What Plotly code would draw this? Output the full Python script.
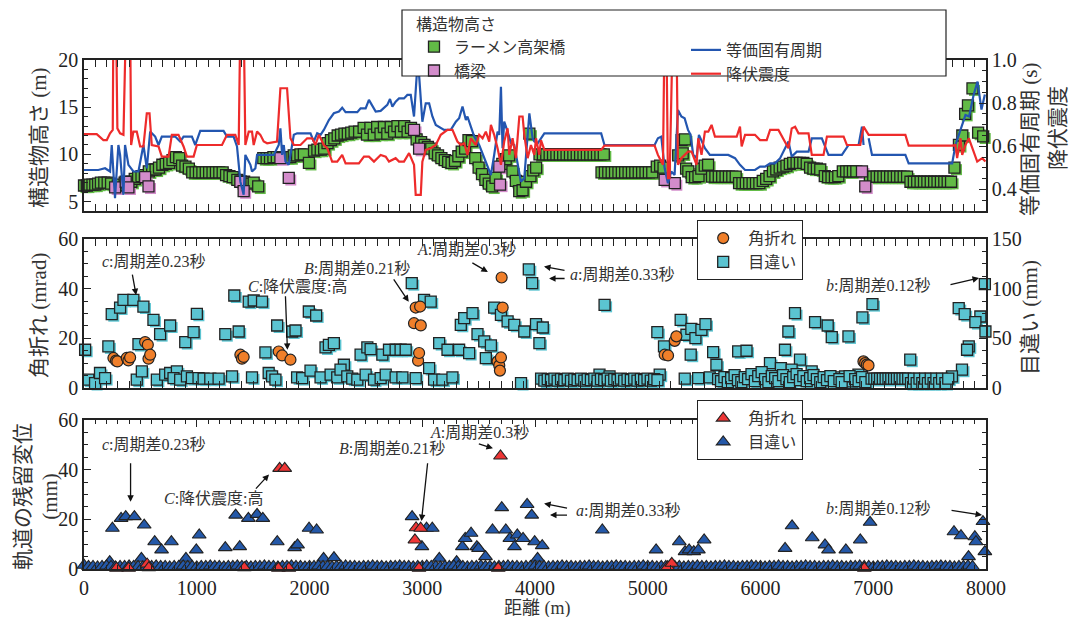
import plotly.graph_objects as go

W, H = 1077, 617
JP = "Liberation Serif, Noto Sans CJK JP"
NUM = "Liberation Serif"
TXT = "#333333"

# ---------------- 上段: 構造物高さ / 等価固有周期 / 降伏震度 ----------------
# (距離 m, 構造物高さ m) ラーメン高架橋
RAMEN = [
    (0, 6.7), (25, 6.7), (50, 6.8), (75, 6.8), (100, 6.8), (125, 6.9), (150, 7.0), (180, 7.0), (210, 7.0), (240, 6.9),
    (300, 6.7), (335, 6.8), (360, 7.0), (420, 7.1), (450, 7.4), (480, 7.6), (510, 7.7), (540, 7.8), (575, 8.2), (605, 8.4),
    (635, 8.4), (665, 8.6), (695, 8.9), (725, 9.0), (755, 9.1), (785, 9.4), (815, 9.7), (845, 9.6), (870, 8.8), (900, 8.7),
    (930, 8.5), (960, 8.1), (990, 8.1), (1020, 8.1), (1050, 8.1), (1080, 8.1), (1110, 8.1), (1140, 8.1), (1170, 8.1), (1200, 8.1),
    (1230, 8.1), (1260, 7.8), (1290, 7.7), (1320, 7.6), (1360, 7.3), (1390, 7.1), (1420, 7.1), (1470, 6.9), (1505, 7.0), (1545, 6.6),
    (1590, 9.6), (1620, 9.6), (1650, 9.6), (1680, 9.7), (1710, 9.7), (1770, 9.7), (1800, 9.7), (1830, 9.7), (1860, 9.9), (1890, 9.9),
    (1920, 10.0), (1950, 10.0), (1995, 9.1), (2040, 10.4), (2070, 10.5), (2100, 10.5), (2130, 10.6), (2160, 11.2), (2190, 11.5), (2220, 11.7),
    (2250, 12.0), (2280, 12.1), (2310, 12.2), (2340, 12.2), (2370, 12.3), (2400, 12.4), (2440, 12.4), (2480, 12.8), (2510, 12.1), (2540, 12.8),
    (2570, 12.1), (2600, 12.9), (2630, 12.2), (2660, 12.9), (2690, 12.2), (2720, 12.9), (2750, 12.4), (2780, 13.0), (2810, 12.4), (2840, 13.0),
    (2870, 12.4), (2900, 12.8), (2950, 11.6), (2990, 11.3), (3020, 11.0), (3050, 10.8), (3080, 10.6), (3110, 10.1), (3140, 9.9), (3170, 9.6),
    (3200, 9.4), (3230, 9.2), (3260, 9.1), (3290, 9.3), (3320, 9.8), (3350, 10.3), (3380, 10.6), (3410, 11.5), (3440, 11.4), (3470, 9.6),
    (3500, 8.6), (3530, 7.9), (3560, 7.3), (3590, 6.9), (3620, 6.6), (3650, 7.5), (3710, 9.0), (3740, 9.5), (3770, 9.9), (3800, 8.2),
    (3830, 7.2), (3860, 6.1), (3890, 6.2), (3920, 7.1), (3950, 12.2), (3960, 7.7), (3985, 8.3), (4010, 8.6),
    (4040, 10.0), (4070, 10.0), (4100, 10.0), (4130, 10.0), (4160, 10.0), (4190, 10.0), (4220, 10.0), (4250, 10.0), (4280, 10.0), (4310, 10.0),
    (4340, 10.0), (4370, 10.0), (4400, 10.0), (4430, 10.0), (4460, 10.0), (4490, 10.0), (4520, 10.0), (4550, 10.0), (4580, 10.0), (4610, 10.0),
    (4590, 8.1), (4620, 8.1), (4650, 8.1), (4680, 8.1), (4710, 8.1), (4740, 8.1), (4770, 8.1), (4800, 8.1), (4830, 8.1), (4860, 8.1),
    (4890, 8.1), (4920, 8.1), (4950, 8.1), (4980, 8.1), (5010, 8.1), (5040, 8.1),
    (5080, 8.7), (5110, 8.8), (5140, 8.6), (5270, 9.9), (5300, 11.5), (5330, 11.6), (5310, 10.1), (5340, 8.5), (5360, 8.2), (5390, 7.6),
    (5420, 7.6), (5450, 7.7), (5475, 8.5), (5505, 8.8), (5535, 8.9),
    (5570, 7.65), (5600, 7.65), (5630, 7.65), (5660, 7.65), (5690, 7.65), (5720, 7.65), (5750, 7.65), (5780, 7.65),
    (5810, 6.95), (5840, 6.95), (5870, 6.95), (5900, 6.95), (5930, 6.95), (5960, 6.95), (5990, 6.95),
    (6020, 7.2), (6050, 7.4), (6080, 7.7), (6110, 8.2), (6140, 8.4), (6170, 8.6), (6200, 8.7), (6230, 8.8), (6260, 9.0), (6290, 9.1),
    (6320, 9.1), (6350, 9.1), (6380, 9.1), (6410, 9.0), (6440, 8.6), (6470, 8.5), (6500, 8.5), (6530, 8.4), (6570, 7.7), (6600, 7.6),
    (6630, 7.6), (6660, 7.6), (6690, 7.7), (6730, 8.2), (6760, 8.2), (6790, 8.2), (6820, 8.2), (6850, 8.2),
    (6970, 7.65), (7000, 7.65), (7030, 7.65), (7060, 7.65), (7090, 7.65), (7120, 7.65), (7150, 7.65), (7180, 7.65), (7210, 7.65), (7240, 7.65),
    (7270, 7.65), (7300, 7.65),
    (7330, 7.1), (7360, 7.1), (7390, 7.1), (7420, 7.1), (7450, 7.1), (7480, 7.1), (7510, 7.1), (7540, 7.1), (7570, 7.1), (7600, 7.1),
    (7630, 7.1), (7660, 7.1), (7690, 7.1),
    (7720, 8.6), (7760, 11.0), (7790, 12.0), (7815, 14.3), (7840, 15.2), (7880, 17.0), (7930, 12.3), (7975, 11.9),
]

# (距離 m, 構造物高さ m) 橋梁
BRIDGE = [
    (276, 6.5), (370, 7.1), (394, 6.5), (542, 7.6), (572, 6.6), (1387, 7.1), (1416, 6.1), (1742, 9.6), (1816, 7.5),
    (2927, 12.6), (2972, 10.6), (3683, 8.7), (3690, 6.8), (5150, 7.3), (5240, 6.95), (6900, 8.2), (6929, 6.6),
]

# (距離 m, 等価固有周期 s)
PERIOD = [
    (0, 0.490), (127, 0.490), (187, 0.498), (231, 0.483), (246, 0.606), (275, 0.359), (305, 0.606), (320, 0.560), (350, 0.375), (364, 0.606),
    (394, 0.514), (438, 0.483), (483, 0.483), (527, 0.606), (557, 0.498), (587, 0.668), (631, 0.645), (661, 0.606), (690, 0.645), (809, 0.645),
    (853, 0.622), (883, 0.645), (957, 0.645), (987, 0.606), (1031, 0.671), (1238, 0.671), (1268, 0.645), (1327, 0.645), (1357, 0.599), (1387, 0.436),
    (1416, 0.375), (1431, 0.560), (1476, 0.514), (1490, 0.483), (1520, 0.498), (1535, 0.560), (1683, 0.560), (1727, 0.606), (1742, 0.683), (1757, 0.560),
    (1772, 0.606), (1787, 0.529), (1816, 0.514), (1831, 0.560), (1861, 0.653), (1890, 0.660), (2009, 0.660), (2038, 0.622), (2068, 0.660), (2098, 0.653),
    (2127, 0.676), (2172, 0.722), (2216, 0.753), (2261, 0.761), (2290, 0.779), (2320, 0.758), (2424, 0.758), (2453, 0.776), (2498, 0.776), (2527, 0.815),
    (2587, 0.761), (2631, 0.764), (2690, 0.792), (2714, 0.819), (2735, 0.784), (2764, 0.807), (2794, 0.822), (2838, 0.822), (2868, 0.838), (2898, 0.838),
    (2927, 0.738), (2951, 0.930), (2972, 0.930), (3001, 0.714), (3031, 0.799), (3061, 0.799), (3090, 0.738), (3120, 0.699), (3164, 0.683), (3194, 0.676),
    (3253, 0.676), (3298, 0.714), (3327, 0.730), (3357, 0.784), (3387, 0.722), (3401, 0.738), (3431, 0.691), (3461, 0.645), (3505, 0.606), (3550, 0.545),
    (3609, 0.467), (3638, 0.560), (3668, 0.668), (3683, 0.653), (3698, 0.876), (3712, 0.591), (3727, 0.714), (3757, 0.668), (3787, 0.614), (3816, 0.606),
    (3846, 0.514), (3875, 0.436), (3905, 0.452), (3935, 0.637), (3950, 0.753), (3979, 0.637), (3994, 0.622), (4024, 0.614), (4053, 0.637), (4083, 0.660),
    (4587, 0.660), (4616, 0.606), (5061, 0.606), (5090, 0.637), (5120, 0.645), (5150, 0.498), (5179, 0.429), (5209, 0.483), (5238, 0.467), (5268, 0.768),
    (5298, 0.738), (5327, 0.730), (5357, 0.676), (5380, 0.653), (5403, 0.560), (5433, 0.545), (5454, 0.653), (5477, 0.629), (5507, 0.591), (5551, 0.560),
    (5714, 0.560), (5774, 0.545), (5818, 0.514), (5863, 0.490), (5951, 0.490), (5996, 0.506), (6040, 0.506), (6085, 0.521), (6129, 0.521), (6174, 0.545),
    (6218, 0.591), (6248, 0.622), (6277, 0.552), (6322, 0.575), (6426, 0.575), (6455, 0.637), (6544, 0.637), (6603, 0.560), (6722, 0.560), (6781, 0.606),
    (6870, 0.606), (6900, 0.691), (6914, 0.606), (None, None), (6959, 0.637), (6989, 0.560), (7285, 0.560), (7314, 0.521), (7700, 0.521), (7729, 0.606),
    (7759, 0.653), (7789, 0.699), (7818, 0.745), (7850, 0.738), (7890, 0.838), (7925, 0.900), (7960, 0.770), (7990, 0.840),
]

# (距離 m, 降伏震度)  ※スケール外の値は上端で切れる
YIELD = [
    (0, 0.656), (113, 0.656), (172, 0.629), (202, 0.629), (231, 0.660), (255, 0.676), (261, 1.2), (284, 1.2), (296, 0.683), (320, 0.660),
    (350, 0.653), (373, 1.2), (409, 1.2), (418, 0.606), (438, 0.668), (468, 0.668), (498, 0.599), (527, 0.599), (557, 0.753), (581, 0.753),
    (601, 0.606), (661, 0.599), (690, 0.552), (750, 0.552), (779, 0.653), (838, 0.653), (883, 0.599), (913, 0.552), (972, 0.552), (1001, 0.606),
    (1224, 0.606), (1268, 0.653), (1342, 0.653), (1372, 0.606), (1387, 1.2), (1416, 1.2), (1431, 0.606), (1461, 0.668), (1490, 0.668), (1505, 0.606),
    (1535, 0.668), (1564, 0.653), (1594, 0.622), (1624, 0.614), (1712, 0.622), (1742, 0.869), (1801, 0.869), (1831, 0.637), (1861, 0.606), (1920, 0.606),
    (1979, 0.637), (2024, 0.637), (2053, 0.606), (2083, 0.653), (2127, 0.606), (2157, 0.591), (2201, 0.529), (2246, 0.529), (2290, 0.560), (2320, 0.521),
    (2438, 0.521), (2483, 0.552), (2527, 0.552), (2572, 0.529), (2631, 0.560), (2676, 0.552), (2705, 0.529), (2764, 0.545), (2794, 0.529), (2838, 0.529),
    (2883, 0.568), (2927, 0.514), (2942, 0.375), (2987, 0.375), (3001, 0.529), (3031, 0.583), (3075, 0.591), (3120, 0.606), (3164, 0.653), (3224, 0.676),
    (3268, 0.676), (3312, 0.622), (3342, 0.606), (3372, 0.614), (3401, 0.560), (3431, 0.637), (3475, 0.606), (3505, 0.653), (3535, 0.637), (3564, 0.668),
    (3594, 0.622), (3609, 0.699), (3638, 0.653), (3668, 0.591), (3698, 0.514), (3727, 0.622), (3757, 0.683), (3772, 0.560), (3801, 0.637), (3831, 0.545),
    (3861, 0.738), (3890, 0.738), (3905, 0.653), (3935, 0.545), (3964, 0.606), (3994, 0.560), (4009, 0.637), (4038, 0.560), (4053, 0.629), (4083, 0.583),
    (4587, 0.583), (4616, 0.603), (5061, 0.603), (5090, 0.560), (5135, 0.514), (5150, 1.2), (5164, 1.2), (5179, 0.452), (5194, 0.452), (5224, 1.2),
    (5253, 1.2), (5268, 0.514), (5298, 0.545), (5327, 0.560), (5357, 0.575), (5389, 0.575), (5433, 0.514), (5448, 0.637), (5477, 0.560), (5507, 0.668),
    (5537, 0.668), (5566, 0.699), (5596, 0.645), (5789, 0.645), (5818, 0.691), (5833, 0.599), (5863, 0.653), (5951, 0.653), (5996, 0.629), (6055, 0.629),
    (6085, 0.676), (6159, 0.676), (6218, 0.622), (6248, 0.591), (6277, 0.683), (6307, 0.691), (6337, 0.660), (6426, 0.660), (6455, 0.560), (6559, 0.560),
    (6589, 0.645), (6737, 0.645), (6766, 0.606), (6885, 0.606), (6914, 0.691), (6959, 0.653), (7285, 0.653), (7314, 0.603), (7700, 0.603), (7729, 0.606),
    (7744, 0.545), (7774, 0.637), (7789, 0.560), (7818, 0.606), (7848, 0.637), (7877, 0.591), (7922, 0.529), (7966, 0.545), (7995, 0.529),
]

# ---------------- 中段: 角折れ (mrad) / 目違い (mm) ----------------
KAKU = [
    (261, 12.1), (284, 11.0), (296, 10.7), (379, 12.1), (394, 11.1), (409, 12.3), (542, 18.5), (566, 17.4), (572, 11.8), (587, 13.4),
    (1387, 13.4), (1401, 11.8), (1416, 12.5), (1727, 14.7), (1757, 13.1), (1831, 11.4), (2927, 26.1), (2942, 32.4), (2963, 11.0), (2972, 14.1),
    (2981, 32.8), (2987, 25.2), (3668, 10.7), (3683, 9.1), (3689, 7.0), (3698, 12.3), (3704, 44.5), (3713, 32.4), (5150, 13.4), (5180, 13.1),
    (5239, 19.0), (5254, 20.8), (6913, 10.7), (6928, 10.0), (6943, 9.4), (6958, 9.1),
]

MECHIGAI = [
    (10, 38.5), (38, 8.4), (98, 5.0), (142, 15.1), (187, 10.0), (216, 41.9), (246, 74.3), (320, 81.0), (350, 88.7), (438, 88.7),
    (527, 82.0), (468, 8.4), (513, 16.7), (483, 44.2), (616, 68.6), (675, 54.2), (764, 62.9), (646, 8.4), (720, 13.4), (764, 15.1),
    (824, 16.7), (794, 10.0), (853, 8.4), (898, 46.2), (972, 56.2), (1001, 74.7), (913, 11.7), (957, 10.0), (1016, 10.0), (1061, 9.4),
    (1120, 9.4), (1194, 9.4), (1253, 54.2), (1313, 11.7), (1333, 93.1), (1372, 56.9), (1461, 87.0), (1505, 88.1), (1579, 87.0), (1490, 10.7),
    (1609, 35.8), (1638, 15.1), (1668, 11.7), (1698, 8.4), (1713, 62.9), (1846, 56.9), (1876, 57.9), (1890, 10.7), (1935, 10.0), (1994, 77.0),
    (2009, 17.4), (2059, 73.0), (2098, 10.7), (2142, 40.8), (2172, 43.5), (2216, 45.2), (2187, 13.4), (2246, 10.7), (2305, 23.4), (2275, 18.4),
    (2335, 11.7), (2379, 9.4), (2424, 8.4), (2453, 33.5), (2498, 13.4), (2513, 40.8), (2542, 39.2), (2572, 8.4), (2631, 10.0), (2646, 33.5),
    (2676, 13.4), (2705, 38.5), (2764, 38.5), (2808, 38.5), (2853, 38.5), (2764, 10.7), (2824, 10.7), (2907, 105.5), (2942, 10.0), (3016, 88.7),
    (3075, 87.0), (3061, 20.1), (3105, 8.4), (3150, 45.2), (3179, 8.4), (3224, 38.5), (3268, 10.7), (3342, 63.6), (3372, 70.3), (3446, 75.3),
    (3327, 38.5), (3416, 35.2), (3490, 54.2), (3550, 46.9), (3564, 30.1), (3609, 42.9), (3638, 81.0), (3698, 73.7), (3757, 67.0), (3816, 63.6),
    (3905, 56.9), (3945, 119.5), (3975, 105.5), (3876, 5.0), (4009, 64.3), (4039, 45.2), (4069, 60.9),
    (4617, 83.7), (5085, 56.2), (5144, 41.9), (5292, 68.6), (5343, 53.6), (5387, 59.6), (5423, 50.2), (5476, 58.6), (5512, 64.3), (5381, 33.5),
    (5580, 36.2), (5609, 23.4), (5802, 36.8), (5876, 37.5), (6084, 25.1), (6217, 38.5), (6306, 75.3), (6247, 56.9), (6350, 28.5), (6484, 66.3),
    (6596, 62.9), (6632, 51.2), (6780, 51.9), (6904, 71.0), (6993, 84.4), (7328, 28.5), (7758, 80.4), (7811, 74.3), (7950, 72.0), (7906, 66.3),
    (7847, 41.9), (7832, 38.5), (7787, 18.4), (7990, 104.5), (7995, 56.9),
    (4572, 13.4), (4661, 11.7), (5106, 13.4), (5328, 9.4), (5447, 10.0), (5550, 10.7), (6181, 20.1), (6276, 18.4), (6454, 16.7), (6543, 10.0),
    (6869, 13.4), (6810, 6.7), (6676, 10.7), (6750, 11.7), (7698, 11.7),
    (4054, 9.5), (4083, 7.5), (4113, 9.0), (4142, 8.0), (4172, 9.5), (4201, 7.5), (4231, 9.0), (4260, 8.0), (4290, 9.5), (4319, 7.5),
    (4349, 9.0), (4378, 8.0), (4408, 9.5), (4437, 7.5), (4467, 9.0), (4496, 8.0), (4526, 9.5), (4555, 7.5), (4585, 9.0), (4614, 8.0),
    (4644, 9.5), (4673, 7.5), (4703, 9.0), (4732, 8.0), (4762, 9.5), (4791, 7.5), (4821, 9.0), (4850, 8.0), (4880, 9.5), (4909, 7.5),
    (4939, 9.0), (4968, 8.0), (4998, 9.5), (5027, 7.5), (5057, 9.0), (5086, 8.0),
    (5624, 9), (5650, 7), (5680, 11), (5710, 6), (5740, 10), (5770, 13), (5800, 8), (5830, 6), (5860, 11), (5890, 9),
    (5920, 14), (5950, 7), (5980, 12), (6010, 16), (6040, 9), (6070, 6), (6100, 12), (6130, 10), (6160, 7), (6200, 13),
    (6230, 9), (6260, 6), (6290, 11), (6320, 14), (6350, 8), (6380, 12), (6410, 7), (6440, 10), (6470, 13), (6500, 9),
    (6530, 6), (6560, 11), (6590, 8), (6620, 12), (6650, 7), (6700, 9), (6720, 6), (6790, 12), (6840, 9), (6870, 7),
    (6900, 11), (6930, 6),
    (6985, 9.4), (7010, 9.4), (7035, 9.4), (7060, 9.4), (7085, 9.4), (7110, 9.4), (7135, 9.4), (7160, 9.4), (7185, 9.4), (7210, 9.4),
    (7235, 9.4), (7260, 9.4), (7285, 9.4), (7310, 9.4), (7335, 5.0), (7360, 9.4), (7385, 5.0), (7410, 9.4), (7435, 5.0), (7460, 9.4),
    (7485, 5.0), (7510, 9.4), (7535, 5.0), (7560, 9.4), (7585, 5.0), (7610, 9.4), (7640, 5.0), (7665, 9.4),
]

# ---------------- 下段: 軌道の残留変位 (mm) ----------------
DISP_KAKU = [
    (288, 0.3), (396, 0.3), (560, 2.0), (575, 0.5), (1422, 0.5), (1724, 0.3), (1735, 40.5), (1780, 40.5), (1817, 0.3),
    (2935, 11.7), (2945, 16.6), (2986, 16.4), (2971, 0.3), (3674, 0.3), (3694, 45.5), (5177, 0.9), (5213, 2.3), (6921, 0.3),
]

DISP_ME = [
    (252, 16.4), (329, 20.4), (370, 21.1), (447, 21.1), (534, 17.7), (509, 4.3), (627, 11.0), (688, 7.7), (775, 11.0), (904, 4.3),
    (996, 7.7), (1022, 13.7), (1253, 8.6), (1345, 21.7), (1381, 9.0), (1458, 20.4), (1535, 22.0), (1586, 20.4), (1714, 11.0), (1868, 8.6),
    (1894, 9.7), (1996, 16.4), (2063, 15.7), (2125, 4.3), (2217, 4.6), (2910, 21.1), (2997, 9.0), (3038, 16.4), (3089, 16.4), (3151, 4.3),
    (3305, 3.0), (3356, 9.0), (3381, 12.3), (3433, 14.4), (3484, 9.0), (3499, 8.3), (3561, 5.0), (3623, 15.7), (3705, 24.7), (3741, 15.7),
    (3777, 12.3), (3818, 9.0), (3843, 13.7), (3894, 12.3), (3930, 26.0), (3971, 21.7), (3997, 11.0), (4064, 9.4), (4023, 4.3), (4597, 15.7),
    (5074, 7.7), (5280, 11.0), (5331, 7.0), (5367, 7.7), (5408, 7.0), (5449, 7.7), (5500, 11.7), (6218, 8.3), (6280, 17.4), (6459, 12.6),
    (6572, 9.7), (6603, 7.7), (6757, 7.7), (6885, 11.7), (6972, 18.8), (7716, 15.0), (7778, 13.4), (7845, 5.0), (7901, 13.0), (7911, 11.0),
    (7973, 19.1), (7990, 7.0), (228, 3.0),
    (0, 1.5), (40, 1.0), (80, 1.0), (120, 0.8), (160, 1.0), (200, 1.2), (240, 1.0), (280, 0.8), (320, 1.0), (360, 1.0),
    (400, 1.2), (440, 1.0), (480, 1.0), (520, 0.8), (560, 1.0), (600, 1.0), (640, 1.2), (680, 1.0), (720, 1.0), (760, 0.8),
    (800, 1.0), (840, 1.0), (880, 1.2), (920, 1.0), (960, 1.0), (1000, 0.8), (1040, 1.0), (1080, 1.0), (1120, 1.2), (1160, 1.0),
    (1200, 1.0), (1240, 0.8), (1280, 1.0), (1320, 1.0), (1360, 1.2), (1400, 1.0), (1440, 1.0), (1480, 0.8), (1520, 1.0), (1560, 1.0),
    (1600, 1.2), (1640, 1.0), (1680, 1.0), (1720, 0.8), (1760, 1.0), (1800, 1.0), (1840, 1.2), (1880, 1.0), (1920, 1.0), (1960, 0.8),
    (2000, 1.0), (2040, 1.0), (2080, 1.2), (2120, 1.0), (2160, 1.0), (2200, 0.8), (2240, 1.0), (2280, 1.0), (2320, 1.2), (2360, 1.0),
    (2400, 1.0), (2440, 0.8), (2480, 1.0), (2520, 1.0), (2560, 1.2), (2600, 1.0), (2640, 1.0), (2680, 0.8), (2720, 1.0), (2760, 1.0),
    (2800, 1.2), (2840, 1.0), (2880, 1.0), (2920, 0.8), (2960, 1.0), (3000, 1.0), (3040, 1.2), (3080, 1.0), (3120, 1.0), (3160, 0.8),
    (3200, 1.0), (3240, 1.0), (3280, 1.2), (3320, 1.0), (3360, 1.0), (3400, 0.8), (3440, 1.0), (3480, 1.0), (3520, 1.2), (3560, 1.0),
    (3600, 1.0), (3640, 0.8), (3680, 1.0), (3720, 1.0), (3760, 1.2), (3800, 1.0), (3840, 1.0), (3880, 0.8), (3920, 1.0), (3960, 1.0),
    (4000, 1.2), (4040, 1.0), (4080, 1.0), (4120, 0.8), (4160, 1.0), (4200, 1.0), (4240, 1.2), (4280, 1.0), (4320, 1.0), (4360, 0.8),
    (4400, 1.0), (4440, 1.0), (4480, 1.2), (4520, 1.0), (4560, 1.0), (4600, 0.8), (4640, 1.0), (4680, 1.0), (4720, 1.2), (4760, 1.0),
    (4800, 1.0), (4840, 0.8), (4880, 1.0), (4920, 1.0), (4960, 1.2), (5000, 1.0), (5040, 1.0), (5080, 0.8), (5120, 1.0), (5160, 1.0),
    (5200, 1.2), (5240, 1.0), (5280, 1.0), (5320, 0.8), (5360, 1.0), (5400, 1.0), (5440, 1.2), (5480, 1.0), (5520, 1.0), (5560, 0.8),
    (5600, 1.0), (5640, 1.0), (5680, 1.2), (5720, 1.0), (5760, 1.0), (5800, 0.8), (5840, 1.0), (5880, 1.0), (5920, 1.2), (5960, 1.0),
    (6000, 1.0), (6040, 0.8), (6080, 1.0), (6120, 1.0), (6160, 1.2), (6200, 1.0), (6240, 1.0), (6280, 0.8), (6320, 1.0), (6360, 1.0),
    (6400, 1.2), (6440, 1.0), (6480, 1.0), (6520, 0.8), (6560, 1.0), (6600, 1.0), (6640, 1.2), (6680, 1.0), (6720, 1.0), (6760, 0.8),
    (6800, 1.0), (6840, 1.0), (6880, 1.2), (6920, 1.0), (6960, 1.0), (7000, 0.8), (7040, 1.0), (7080, 1.0), (7120, 1.2), (7160, 1.0),
    (7200, 1.0), (7240, 0.8), (7280, 1.0), (7320, 1.0), (7360, 1.2), (7400, 1.0), (7440, 1.0), (7480, 0.8), (7520, 1.0), (7560, 1.0),
    (7600, 1.2), (7640, 1.0), (7680, 1.0), (7720, 0.8), (7760, 1.0), (7800, 1.0), (7840, 1.2), (7880, 1.0),
]


def split(pts):
    return [p[0] for p in pts], [p[1] for p in pts]


GREEN = "#62BB46"
PINK = "#D38CCB"
BLUE_LINE = "#2356B0"
RED_LINE = "#EE2B2B"
CYAN = "#5BC4D1"
ORANGE = "#F07F2A"
BLUE_TRI = "#2458A8"
RED_TRI = "#EE3535"
EDGE = "#222222"

fig = go.Figure()

# 上段 ---------------------------------------------------------------
rx, rh = split(RAMEN)
bx, bh = split(BRIDGE)
for xs, ys, col in ((rx, rh, GREEN), (bx, bh, PINK)):
    fig.add_trace(go.Scatter(
        x=[v + 18 for v in xs], y=[v - 0.22 for v in ys], mode="markers",
        marker=dict(symbol="square", size=11, color=col, line=dict(width=0)),
        xaxis="x", yaxis="y", showlegend=False, hoverinfo="skip", cliponaxis=False))
fig.add_trace(go.Scatter(
    x=rx, y=rh, mode="markers", name="ラーメン高架橋", legend="legend",
    marker=dict(symbol="square", size=11, color=GREEN, line=dict(width=1.3, color=EDGE)),
    xaxis="x", yaxis="y", cliponaxis=False))
fig.add_trace(go.Scatter(
    x=bx, y=bh, mode="markers", name="橋梁", legend="legend",
    marker=dict(symbol="square", size=11, color=PINK, line=dict(width=1.3, color=EDGE)),
    xaxis="x", yaxis="y", cliponaxis=False))

px_, ps = split(PERIOD)
yx, yv = split(YIELD)
fig.add_trace(go.Scatter(
    x=px_, y=ps, mode="lines", name="等価固有周期", legend="legend4",
    line=dict(color=BLUE_LINE, width=2.2), xaxis="x", yaxis="y2", connectgaps=False))
fig.add_trace(go.Scatter(
    x=yx, y=yv, mode="lines", name="降伏震度", legend="legend4",
    line=dict(color=RED_LINE, width=2.2), xaxis="x", yaxis="y2"))

# 中段 ---------------------------------------------------------------
mx, mm = split(MECHIGAI)
kx, kv = split(KAKU)
fig.add_trace(go.Scatter(
    x=[v + 18 for v in mx], y=[v - 2.0 for v in mm], mode="markers",
    marker=dict(symbol="square", size=11, color=CYAN, line=dict(width=0)),
    xaxis="x2", yaxis="y4", showlegend=False, hoverinfo="skip", cliponaxis=False))
fig.add_trace(go.Scatter(
    x=mx, y=mm, mode="markers", name="目違い", legend="legend2", legendrank=2,
    marker=dict(symbol="square", size=11, color=CYAN, line=dict(width=1.3, color=EDGE)),
    xaxis="x2", yaxis="y4", cliponaxis=False))
fig.add_trace(go.Scatter(
    x=kx, y=kv, mode="markers", name="角折れ", legend="legend2", legendrank=1,
    marker=dict(symbol="circle", size=11, color=ORANGE, line=dict(width=1.2, color=EDGE)),
    xaxis="x2", yaxis="y3", cliponaxis=False))

# 下段 ---------------------------------------------------------------
dx, dv = split(DISP_ME)
ex, ev = split(DISP_KAKU)
fig.add_trace(go.Scatter(
    x=dx, y=dv, mode="markers", name="目違い", legend="legend3", legendrank=2,
    marker=dict(symbol="triangle-up", size=12, color=BLUE_TRI, line=dict(width=1.1, color=EDGE)),
    xaxis="x3", yaxis="y5", cliponaxis=False))
fig.add_trace(go.Scatter(
    x=ex, y=ev, mode="markers", name="角折れ", legend="legend3", legendrank=1,
    marker=dict(symbol="triangle-up", size=12, color=RED_TRI, line=dict(width=1.1, color=EDGE)),
    xaxis="x3", yaxis="y5", cliponaxis=False))

# 軸 -----------------------------------------------------------------
XDOM = [84 / W, 986 / W]
TOP = [1 - 211 / H, 1 - 60 / H]
MID = [1 - 388 / H, 1 - 239 / H]
BOT = [1 - 569 / H, 1 - 420 / H]
tickfont = dict(family=NUM, size=20, color="#222")


def xax(anchor, labels):
    return dict(domain=XDOM, range=[0, 8000], anchor=anchor, showticklabels=labels,
                tick0=0, dtick=1000, ticks="inside", ticklen=7, tickwidth=1, tickcolor=EDGE,
                minor=dict(ticks="inside", ticklen=4, tickwidth=1, tickcolor=EDGE, dtick=100),
                showline=True, linecolor=EDGE, linewidth=1.5, mirror="allticks",
                showgrid=False, zeroline=False, tickfont=tickfont, automargin=False)


def yax(rng, tick0, dtick, minor, side="left", mirror=False, **kw):
    d = dict(range=rng, tick0=tick0, dtick=dtick, side=side,
             ticks="inside", ticklen=7, tickwidth=1, tickcolor=EDGE,
             minor=dict(ticks="inside", ticklen=4, tickwidth=1, tickcolor=EDGE, dtick=minor),
             showline=True, linecolor=EDGE, linewidth=1.5, mirror=mirror,
             showgrid=False, zeroline=False, tickfont=tickfont, automargin=False)
    d.update(kw)
    return d


legend_font = dict(family=JP, size=16, color=TXT)

fig.update_layout(
    width=W, height=H, autosize=False,
    margin=dict(l=0, r=0, t=0, b=0, pad=0, autoexpand=False),
    paper_bgcolor="white", plot_bgcolor="white",
    font=dict(family=JP, color=TXT),
    xaxis=xax("y", False),
    yaxis=yax([4, 20], 5, 5, 1, domain=TOP, anchor="x"),
    yaxis2=yax([0.3, 1.0], 0.4, 0.2, 0.05, side="right", overlaying="y", anchor="x", tickformat=".1f"),
    xaxis2=xax("y4", False),
    yaxis4=yax([0, 150], 0, 50, 12.5, side="right", domain=MID, anchor="x2"),
    yaxis3=yax([0, 60], 0, 20, 5, side="left", overlaying="y4", anchor="x2"),
    xaxis3=xax("y5", True),
    yaxis5=yax([0, 60], 0, 20, 5, domain=BOT, anchor="x3", mirror="allticks"),
    legend=dict(x=414 / W, y=1 - 9 / H, xanchor="left", yanchor="top",
                title=dict(text="構造物高さ", font=legend_font),
                bgcolor="rgba(0,0,0,0)", borderwidth=0, font=legend_font, tracegroupgap=0),
    legend4=dict(x=686 / W, y=1 - 33 / H, xanchor="left", yanchor="top",
                 bgcolor="rgba(0,0,0,0)", borderwidth=0, font=legend_font, tracegroupgap=0),
    legend2=dict(x=697 / W, y=1 - 220 / H, xanchor="left", yanchor="top", itemwidth=40,
                 bgcolor="white", bordercolor=EDGE, borderwidth=1.2, font=legend_font),
    legend3=dict(x=697 / W, y=1 - 400 / H, xanchor="left", yanchor="top", itemwidth=40,
                 bgcolor="white", bordercolor=EDGE, borderwidth=1.2, font=legend_font),
)

# 上段凡例の枠
fig.add_shape(type="rect", xref="paper", yref="paper",
              x0=402 / W, x1=946 / W, y0=1 - 76 / H, y1=1 - 10 / H,
              fillcolor="white", line=dict(color=EDGE, width=1.2), layer="above")


def label(text, px, py, size=16, angle=0):
    fig.add_annotation(text=text, x=px / W, y=1 - py / H, xref="paper", yref="paper",
                       showarrow=False, textangle=angle, xanchor="center", yanchor="middle",
                       font=dict(family=JP, size=size, color=TXT))


def arrow(xref, yref, x, y, ax, ay):
    fig.add_annotation(text="", x=x, y=y, xref=xref, yref=yref, ax=ax, ay=ay,
                       showarrow=True, arrowhead=2, arrowsize=1, arrowwidth=1.3, arrowcolor="#111")


# 軸タイトル
label("構造物高さ (m)", 39, 138, size=21, angle=-90)
label("等価固有周期 (s)", 1030, 140, size=21, angle=-90)
label("降伏震度", 1058, 128, size=21, angle=-90)
label("角折れ (mrad)", 39, 316, size=21, angle=-90)
label("目違い (mm)", 1030, 318, size=21, angle=-90)
label("軌道の残留変位<br>(mm)", 36, 497, size=21, angle=-90)
label("距離 (m)", 537, 608, size=18)

# 中段の注記
label("<i>c</i>:周期差0.23秒", 154, 262)
label("<i>C</i>:降伏震度:高", 298, 287)
label("<i>B</i>:周期差0.21秒", 357, 268)
label("<i>A</i>:周期差0.3秒", 466, 250)
label("<i>a</i>:周期差0.33秒", 622, 275)
label("<i>b</i>:周期差0.12秒", 878, 285)
arrow("x2", "y3", 462, 37.4, -4, -22)
arrow("x2", "y3", 1804, 15.4, -2, -55)
arrow("x2", "y3", 2880, 34.7, -16, -24)
arrow("x2", "y3", 3582, 46.7, -17, -10)
arrow("x2", "y3", 4080, 48.9, 22, 4)
arrow("x2", "y3", 4125, 44.1, 17, 0)
arrow("x2", "y3", 7938, 44.3, -30, 7)

# 下段の注記
label("<i>c</i>:周期差0.23秒", 154, 444)
label("<i>C</i>:降伏震度:高", 214, 498)
label("<i>B</i>:周期差0.21秒", 392, 448)
label("<i>A</i>:周期差0.3秒", 479, 432)
label("<i>a</i>:周期差0.33秒", 628, 510)
label("<i>b</i>:周期差0.12秒", 878, 508)
arrow("x3", "y5", 413, 27.1, 0, -40)
arrow("x3", "y5", 1641, 38.1, -14.5, 15.7)
arrow("x3", "y5", 2993, 19.3, 6.3, -59.3)
arrow("x3", "y5", 3627, 48.6, -15.6, -5)
arrow("x3", "y5", 4081, 26.4, 24.4, 5)
arrow("x3", "y5", 4133, 21.7, 18.5, 0)
arrow("x3", "y5", 7965, 21.7, -32, -5)

fig.write_html("out.html")
